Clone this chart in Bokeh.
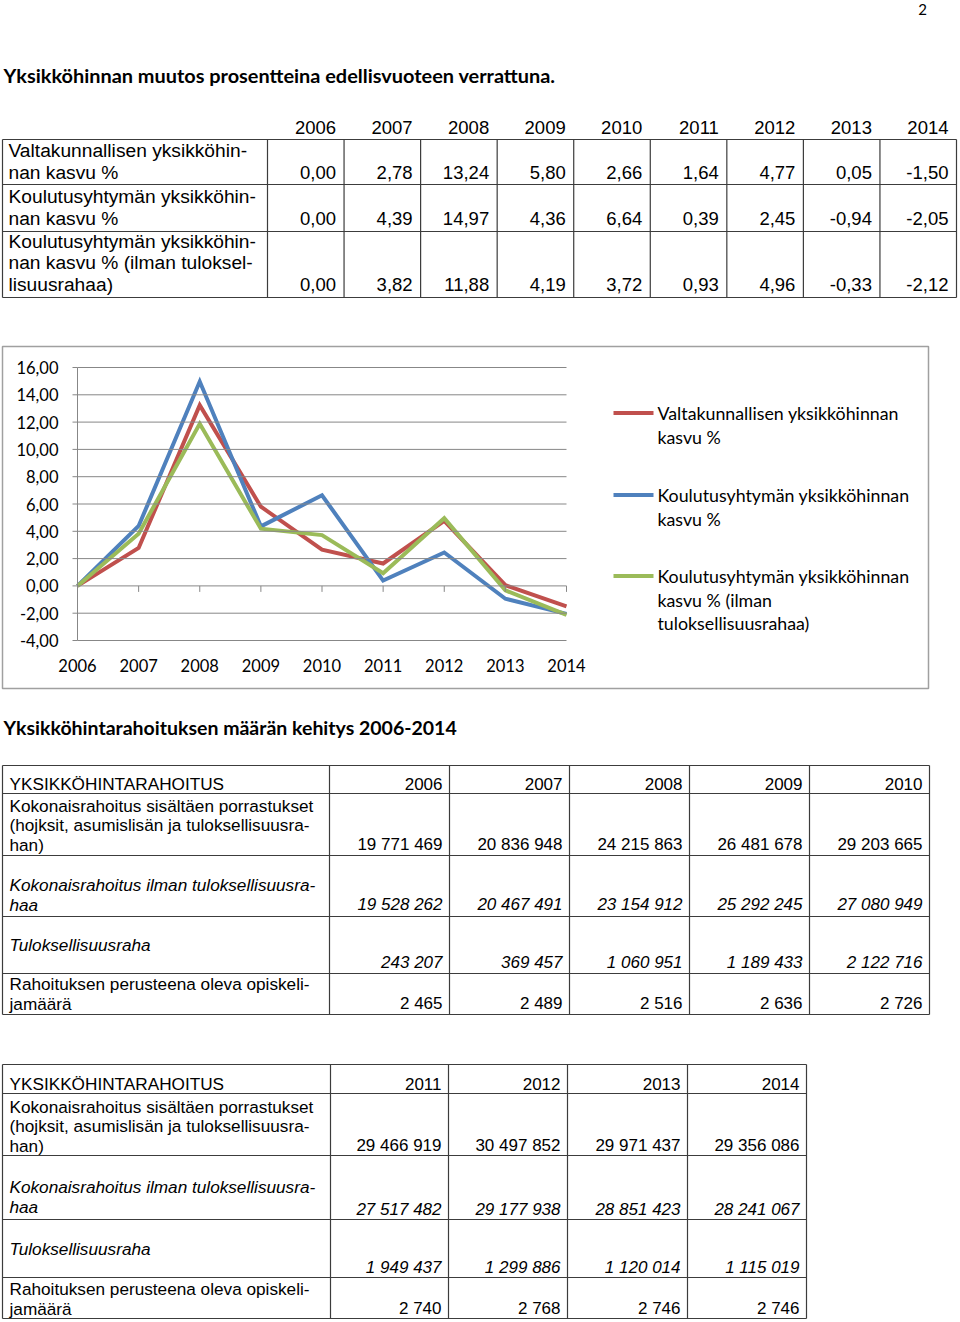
from bokeh.plotting import figure
from bokeh.models import Range1d, ColumnDataSource
from bokeh.core.properties import value
from bokeh.embed import file_html
from bokeh.resources import INLINE

# ---------------- data ----------------
page_number = "2"
title_1 = "Yksikköhinnan muutos prosentteina edellisvuoteen verrattuna."
title_2 = "Yksikköhintarahoituksen määrän kehitys 2006-2014"

years = [2006, 2007, 2008, 2009, 2010, 2011, 2012, 2013, 2014]
valtak_kasvu = [0.00, 2.78, 13.24, 5.80, 2.66, 1.64, 4.77, 0.05, -1.50]
koul_kasvu = [0.00, 4.39, 14.97, 4.36, 6.64, 0.39, 2.45, -0.94, -2.05]
koul_kasvu_ilman = [0.00, 3.82, 11.88, 4.19, 3.72, 0.93, 4.96, -0.33, -2.12]
y_ticks = [-4, -2, 0, 2, 4, 6, 8, 10, 12, 14, 16]

t1_row_labels = [
    ["Valtakunnallisen yksikköhin-", "nan kasvu %"],
    ["Koulutusyhtymän yksikköhin-", "nan kasvu %"],
    ["Koulutusyhtymän yksikköhin-", "nan kasvu % (ilman tuloksel-", "lisuusrahaa)"],
]
legend_labels = [
    ["Valtakunnallisen yksikköhinnan", "kasvu %"],
    ["Koulutusyhtymän yksikköhinnan", "kasvu %"],
    ["Koulutusyhtymän yksikköhinnan", "kasvu % (ilman", "tuloksellisuusrahaa)"],
]
series_colors = ["#C0504D", "#4F81BD", "#9BBB59"]

fund_header = "YKSIKKÖHINTARAHOITUS"
fund_row_labels = [
    ["Kokonaisrahoitus sisältäen porrastukset", "(hojksit, asumislisän ja tuloksellisuusra-", "han)"],
    ["Kokonaisrahoitus ilman tuloksellisuusra-", "haa"],
    ["Tuloksellisuusraha"],
    ["Rahoituksen perusteena oleva opiskeli-", "jamäärä"],
]
kokonais = [19771469, 20836948, 24215863, 26481678, 29203665, 29466919, 30497852, 29971437, 29356086]
ilman_tulos = [19528262, 20467491, 23154912, 25292245, 27080949, 27517482, 29177938, 28851423, 28241067]
tulosraha = [243207, 369457, 1060951, 1189433, 2122716, 1949437, 1299886, 1120014, 1115019]
opiskelijat = [2465, 2489, 2516, 2636, 2726, 2740, 2768, 2746, 2746]
fund_italic = [False, True, True, False]

# ---------------- layout ----------------
W, H = 960, 1322
RX0, RX1 = 0, 960
RY0, RY1 = 0, 1322

p = figure(width=W, height=H, x_range=Range1d(RX0, RX1), y_range=Range1d(RY1, RY0),
           x_axis_type=None, y_axis_type=None, output_backend="svg",
           toolbar_location=None, min_border=0)
p.grid.visible = False
p.outline_line_color = None
p.background_fill_color = "white"

# chart scales (extra ranges mapped onto the plot area of the chart)
CX0, CX1 = 77, 566
CY_TOP, CY_BOT = 367, 640
px_yr = (CX1 - CX0) / (years[-1] - years[0])
px_v = (CY_BOT - CY_TOP) / (y_ticks[-1] - y_ticks[0])
def v_at(ry):
    return y_ticks[0] + (CY_BOT - ry) / px_v
p.extra_x_ranges = {"yr": Range1d(years[0] + (RX0 - CX0) / px_yr, years[0] + (RX1 - CX0) / px_yr)}
p.extra_y_ranges = {"val": Range1d(v_at(RY1), v_at(RY0))}

groups = {}
def put(x, y, s, font="Liberation Sans", size=18, style="normal", align="left",
        color="#000000", xr="default", yr="default", shift=0.0):
    yoff = round(-0.26 * size + shift, 1)
    key = (font, size, style, align, color, xr, yr, yoff)
    g = groups.setdefault(key, {"x": [], "y": [], "t": []})
    g["x"].append(x); g["y"].append(y); g["t"].append(s)

segs = {}
def seg(x0, y0, x1, y1, color="#3c3c3c", width=1.2, xr="default", yr="default"):
    key = (color, width, xr, yr)
    g = segs.setdefault(key, {"x0": [], "y0": [], "x1": [], "y1": []})
    g["x0"].append(x0); g["y0"].append(y0); g["x1"].append(x1); g["y1"].append(y1)

def fmt_pct(v):
    return f"{v:.2f}".replace(".", ",")
def fmt_int(v):
    return f"{v:,}".replace(",", " ")

TITLE_FONT = "Lato"
CHART_FONT = "Lato"

# page number and titles
put(922, 12.5, page_number, font=CHART_FONT, size=15, align="center")
put(3, 79.5, title_1, font=TITLE_FONT, size=19.9, style="bold")
put(3, 732.5, title_2, font=TITLE_FONT, size=19.5, style="bold")

# ---------------- table 1 ----------------
t1_x = [2] + [267 + i * (956 - 267) / 9 for i in range(10)]
t1_top = 139
t1_bottoms = [184, 231, 297]
t1_base = [176.5, 222.5, 288.5]
for yy in [t1_top] + t1_bottoms:
    seg(t1_x[0], yy, t1_x[-1], yy)
for xx in t1_x:
    seg(xx, t1_top, xx, t1_bottoms[-1])
for i, yv in enumerate(years):
    put(t1_x[i + 2] - 8, 132, str(yv), size=18.5, align="right")
for r, (labels, vals) in enumerate(zip(t1_row_labels, [valtak_kasvu, koul_kasvu, koul_kasvu_ilman])):
    n = len(labels)
    for k, line in enumerate(labels):
        put(8, t1_base[r] - (n - 1 - k) * 21.5, line, size=19.2)
    for i, v in enumerate(vals):
        put(t1_x[i + 2] - 8, t1_base[r], fmt_pct(v), size=18.5, align="right")

# ---------------- chart ----------------
p.quad(left=[2], right=[928], top=[346], bottom=[688], fill_color=None,
       line_color="#a0a0a0", line_width=1.5)
GRID = "#878787"
for t in y_ticks:
    seg(years[0], t, years[-1], t, color=GRID, width=1, xr="yr", yr="val")
    seg(CX0 - 5, t, CX0, t, color=GRID, width=1, yr="val")
    put(58, t, fmt_pct(t), font=CHART_FONT, size=16.5, align="right", yr="val", shift=4.3)
seg(years[0], y_ticks[0], years[0], y_ticks[-1], color=GRID, width=1, xr="yr", yr="val")
tick_len = 6 / px_v
for yv in years:
    seg(yv, 0, yv, -tick_len, color=GRID, width=1, xr="yr", yr="val")
    put(yv, 669, str(yv), font=CHART_FONT, size=16.5, align="center", xr="yr")

for vals, col in zip([valtak_kasvu, koul_kasvu, koul_kasvu_ilman], series_colors):
    p.line(years, vals, line_color=col, line_width=4, line_join="miter",
           x_range_name="yr", y_range_name="val")

# legend
leg_first = [417.5, 499.5, 580.5]
for labels, col, b in zip(legend_labels, series_colors, leg_first):
    p.line([613, 653], [b - 5, b - 5], line_color=col, line_width=4)
    for k, line in enumerate(labels):
        put(657, b + k * 23.5, line, font=CHART_FONT, size=17.8)

# ---------------- tables 2 and 3 ----------------
fund_values = [kokonais, ilman_tulos, tulosraha, opiskelijat]

def fund_table(cols, row_lines, header_base, val_base, label_base, yrs_idx):
    for yy in row_lines:
        seg(cols[0], yy, cols[-1], yy)
    for xx in cols:
        seg(xx, row_lines[0], xx, row_lines[-1])
    put(9, header_base, fund_header, size=17.2)
    for j, i in enumerate(yrs_idx):
        put(cols[j + 2] - 7, header_base, str(years[i]), size=17, align="right")
    for r, labels in enumerate(fund_row_labels):
        st = "italic" if fund_italic[r] else "normal"
        n = len(labels)
        for k, line in enumerate(labels):
            put(9, label_base[r] - (n - 1 - k) * 19.5, line, size=17.2, style=st)
        for j, i in enumerate(yrs_idx):
            put(cols[j + 2] - 7, val_base[r], fmt_int(fund_values[r][i]), size=17,
                style=st, align="right")

fund_table([2, 329, 449, 569, 689, 809, 929], [765, 793, 855, 916, 973, 1014],
           787.5, [848.5, 908.5, 966.5, 1007.5], [848.5, 908.5, 948.5, 1007.5], [0, 1, 2, 3, 4])
fund_table([2, 330, 448, 567, 687, 806], [1064, 1093, 1155, 1219, 1277, 1318],
           1087.5, [1149.5, 1213.5, 1271.5, 1312.5], [1149.5, 1210.5, 1252.5, 1312.5], [5, 6, 7, 8])

# ---------------- render collected glyphs ----------------
for (color, width, xr, yr), g in segs.items():
    p.segment(x0="x0", y0="y0", x1="x1", y1="y1", source=ColumnDataSource(g),
              line_color=color, line_width=width, x_range_name=xr, y_range_name=yr)
for (font, size, style, align, color, xr, yr, yoff), g in groups.items():
    p.text(x="x", y="y", text="t", source=ColumnDataSource(g), text_font=value(font),
           text_font_size=f"{size}px", text_font_style=style, text_align=align,
           text_baseline="alphabetic", text_color=color, x_range_name=xr,
           y_range_name=yr, y_offset=yoff)

open("out.html", "w").write(file_html(p, INLINE))
